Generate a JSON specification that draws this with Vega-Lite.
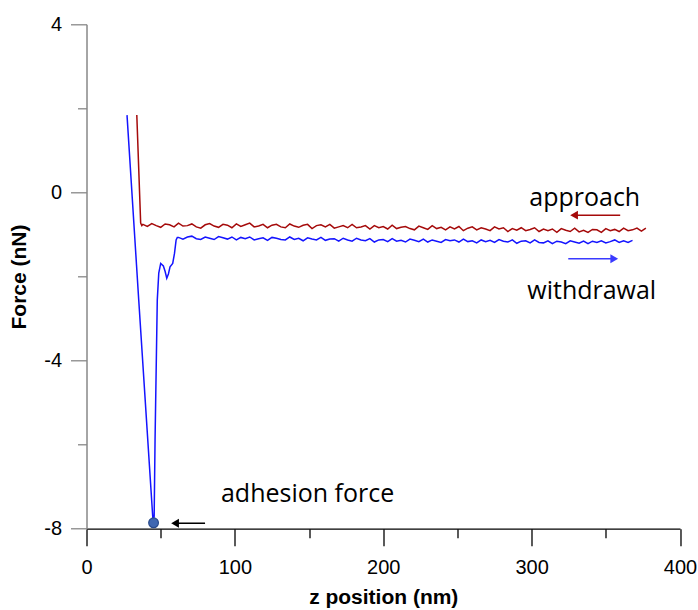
{
  "$schema": "https://vega.github.io/schema/vega-lite/v6.json",
  "autosize": {"type": "none"},
  "width": 593.5,
  "height": 504.4,
  "padding": {"left": 86.5, "top": 24.3, "right": 18, "bottom": 81},
  "background": "white",
  "config": {"view": {"stroke": null}},
  "datasets": {
    "approach": [
      {"z": 33.9, "f": 1.84}, {"z": 36.5, "f": -0.73}, {"z": 37.3, "f": -0.79},
      {"z": 38, "f": -0.76}, {"z": 41, "f": -0.81}, {"z": 44, "f": -0.74}, {"z": 47, "f": -0.79}, {"z": 50, "f": -0.83},
      {"z": 53, "f": -0.75}, {"z": 56, "f": -0.77}, {"z": 59, "f": -0.82}, {"z": 62, "f": -0.73}, {"z": 65, "f": -0.80},
      {"z": 68, "f": -0.79}, {"z": 71, "f": -0.75}, {"z": 74, "f": -0.82}, {"z": 77, "f": -0.85}, {"z": 80, "f": -0.77},
      {"z": 83, "f": -0.74}, {"z": 86, "f": -0.80}, {"z": 89, "f": -0.83}, {"z": 92, "f": -0.76}, {"z": 95, "f": -0.78},
      {"z": 98, "f": -0.84}, {"z": 101, "f": -0.75}, {"z": 104, "f": -0.81}, {"z": 107, "f": -0.77}, {"z": 110, "f": -0.73},
      {"z": 113, "f": -0.82}, {"z": 116, "f": -0.80}, {"z": 119, "f": -0.76}, {"z": 122, "f": -0.84}, {"z": 125, "f": -0.78},
      {"z": 128, "f": -0.76}, {"z": 131, "f": -0.82}, {"z": 134, "f": -0.84}, {"z": 137, "f": -0.75}, {"z": 140, "f": -0.80},
      {"z": 143, "f": -0.83}, {"z": 146, "f": -0.78}, {"z": 149, "f": -0.76}, {"z": 152, "f": -0.86}, {"z": 155, "f": -0.79},
      {"z": 158, "f": -0.77}, {"z": 161, "f": -0.82}, {"z": 164, "f": -0.76}, {"z": 167, "f": -0.85}, {"z": 170, "f": -0.82},
      {"z": 173, "f": -0.79}, {"z": 176, "f": -0.84}, {"z": 179, "f": -0.76}, {"z": 182, "f": -0.84}, {"z": 185, "f": -0.82},
      {"z": 188, "f": -0.79}, {"z": 191, "f": -0.87}, {"z": 194, "f": -0.79}, {"z": 197, "f": -0.84}, {"z": 200, "f": -0.81},
      {"z": 203, "f": -0.87}, {"z": 206, "f": -0.78}, {"z": 209, "f": -0.86}, {"z": 212, "f": -0.83}, {"z": 215, "f": -0.81},
      {"z": 218, "f": -0.86}, {"z": 221, "f": -0.89}, {"z": 224, "f": -0.80}, {"z": 227, "f": -0.84}, {"z": 230, "f": -0.88},
      {"z": 233, "f": -0.79}, {"z": 236, "f": -0.86}, {"z": 239, "f": -0.83}, {"z": 242, "f": -0.89}, {"z": 245, "f": -0.82},
      {"z": 248, "f": -0.87}, {"z": 251, "f": -0.81}, {"z": 254, "f": -0.91}, {"z": 257, "f": -0.85}, {"z": 260, "f": -0.82},
      {"z": 263, "f": -0.89}, {"z": 266, "f": -0.84}, {"z": 269, "f": -0.87}, {"z": 272, "f": -0.91}, {"z": 275, "f": -0.82},
      {"z": 278, "f": -0.87}, {"z": 281, "f": -0.84}, {"z": 284, "f": -0.93}, {"z": 287, "f": -0.86}, {"z": 290, "f": -0.90},
      {"z": 293, "f": -0.84}, {"z": 296, "f": -0.91}, {"z": 299, "f": -0.88}, {"z": 302, "f": -0.84}, {"z": 305, "f": -0.93},
      {"z": 308, "f": -0.87}, {"z": 311, "f": -0.91}, {"z": 314, "f": -0.87}, {"z": 317, "f": -0.95}, {"z": 320, "f": -0.86},
      {"z": 323, "f": -0.90}, {"z": 326, "f": -0.93}, {"z": 329, "f": -0.85}, {"z": 332, "f": -0.94}, {"z": 335, "f": -0.90},
      {"z": 338, "f": -0.95}, {"z": 341, "f": -0.88}, {"z": 344, "f": -0.89}, {"z": 347, "f": -0.95}, {"z": 350, "f": -0.86},
      {"z": 353, "f": -0.91}, {"z": 356, "f": -0.88}, {"z": 359, "f": -0.93}, {"z": 362, "f": -0.85}, {"z": 365, "f": -0.91},
      {"z": 368, "f": -0.89}, {"z": 371, "f": -0.85}, {"z": 374, "f": -0.92}, {"z": 377, "f": -0.85}
    ],
    "withdrawal": [
      {"z": 27.3, "f": 1.84}, {"z": 35.2, "f": -2.56}, {"z": 44.9, "f": -7.86}, {"z": 45.6, "f": -7.70},
      {"z": 46.2, "f": -5.89}, {"z": 47.7, "f": -2.56}, {"z": 48.7, "f": -1.92}, {"z": 50.0, "f": -1.69},
      {"z": 51.8, "f": -1.75}, {"z": 53.0, "f": -1.88}, {"z": 54.1, "f": -2.04}, {"z": 55.2, "f": -1.94},
      {"z": 56.3, "f": -1.77}, {"z": 58.1, "f": -1.69}, {"z": 59.3, "f": -1.45}, {"z": 60.4, "f": -1.13}, {"z": 61.2, "f": -1.07},
      {"z": 62, "f": -1.07}, {"z": 65, "f": -1.11}, {"z": 68, "f": -1.06}, {"z": 71, "f": -1.04}, {"z": 74, "f": -1.10},
      {"z": 77, "f": -1.12}, {"z": 80, "f": -1.06}, {"z": 83, "f": -1.09}, {"z": 86, "f": -1.12}, {"z": 89, "f": -1.05},
      {"z": 92, "f": -1.08}, {"z": 95, "f": -1.11}, {"z": 98, "f": -1.06}, {"z": 101, "f": -1.13}, {"z": 104, "f": -1.07},
      {"z": 107, "f": -1.10}, {"z": 110, "f": -1.06}, {"z": 113, "f": -1.13}, {"z": 116, "f": -1.10}, {"z": 119, "f": -1.08},
      {"z": 122, "f": -1.14}, {"z": 125, "f": -1.07}, {"z": 128, "f": -1.09}, {"z": 131, "f": -1.12}, {"z": 134, "f": -1.13},
      {"z": 137, "f": -1.06}, {"z": 140, "f": -1.12}, {"z": 143, "f": -1.09}, {"z": 146, "f": -1.15}, {"z": 149, "f": -1.08},
      {"z": 152, "f": -1.11}, {"z": 155, "f": -1.13}, {"z": 158, "f": -1.07}, {"z": 161, "f": -1.14}, {"z": 164, "f": -1.11},
      {"z": 167, "f": -1.10}, {"z": 170, "f": -1.16}, {"z": 173, "f": -1.09}, {"z": 176, "f": -1.13}, {"z": 179, "f": -1.16},
      {"z": 182, "f": -1.09}, {"z": 185, "f": -1.13}, {"z": 188, "f": -1.15}, {"z": 191, "f": -1.10}, {"z": 194, "f": -1.18},
      {"z": 197, "f": -1.13}, {"z": 200, "f": -1.12}, {"z": 203, "f": -1.17}, {"z": 206, "f": -1.10}, {"z": 209, "f": -1.16},
      {"z": 212, "f": -1.14}, {"z": 215, "f": -1.18}, {"z": 218, "f": -1.11}, {"z": 221, "f": -1.14}, {"z": 224, "f": -1.17},
      {"z": 227, "f": -1.11}, {"z": 230, "f": -1.18}, {"z": 233, "f": -1.13}, {"z": 236, "f": -1.16}, {"z": 239, "f": -1.19},
      {"z": 242, "f": -1.12}, {"z": 245, "f": -1.15}, {"z": 248, "f": -1.13}, {"z": 251, "f": -1.18}, {"z": 254, "f": -1.11},
      {"z": 257, "f": -1.17}, {"z": 260, "f": -1.15}, {"z": 263, "f": -1.20}, {"z": 266, "f": -1.13}, {"z": 269, "f": -1.17},
      {"z": 272, "f": -1.14}, {"z": 275, "f": -1.19}, {"z": 278, "f": -1.12}, {"z": 281, "f": -1.16}, {"z": 284, "f": -1.18},
      {"z": 287, "f": -1.13}, {"z": 290, "f": -1.21}, {"z": 293, "f": -1.16}, {"z": 296, "f": -1.15}, {"z": 299, "f": -1.20},
      {"z": 302, "f": -1.13}, {"z": 305, "f": -1.19}, {"z": 308, "f": -1.20}, {"z": 311, "f": -1.15}, {"z": 314, "f": -1.22},
      {"z": 317, "f": -1.16}, {"z": 320, "f": -1.18}, {"z": 323, "f": -1.22}, {"z": 326, "f": -1.15}, {"z": 329, "f": -1.18},
      {"z": 332, "f": -1.21}, {"z": 335, "f": -1.16}, {"z": 338, "f": -1.22}, {"z": 341, "f": -1.16}, {"z": 344, "f": -1.19},
      {"z": 347, "f": -1.15}, {"z": 350, "f": -1.20}, {"z": 353, "f": -1.17}, {"z": 356, "f": -1.13}, {"z": 359, "f": -1.19},
      {"z": 362, "f": -1.15}, {"z": 365, "f": -1.19}, {"z": 368, "f": -1.14}
    ],
    "dot": [{"z": 45.2, "f": -7.86}],
    "labels": [
      {"z": 335.8, "f": -0.32, "text": "approach"},
      {"z": 340.5, "f": -2.54, "text": "withdrawal"},
      {"z": 149.0, "f": -7.36, "text": "adhesion force"}
    ],
    "arrows": [
      {"name": "approach", "z": 330, "z2": 359.7, "f": -0.54, "head": 328.6, "dir": "left"},
      {"name": "withdrawal", "z": 324.7, "z2": 354, "f": -1.58, "head": 355.7, "dir": "right"},
      {"name": "adhesion", "z": 61, "z2": 79.9, "f": -7.87, "head": 59.7, "dir": "left"}
    ]
  },
  "resolve": {"axis": {"x": "independent", "y": "independent"}},
  "layer": [
    {
      "data": {"name": "approach"},
      "mark": {"type": "line", "color": "#a50a0a", "strokeWidth": 1.5, "interpolate": "linear"},
      "encoding": {
        "x": {"field": "z", "type": "quantitative",
          "scale": {"domain": [0, 400], "nice": false, "zero": false},
          "axis": {"orient": "bottom", "values": [0, 100, 200, 300, 400], "tickSize": 17, "tickWidth": 1.3,
            "tickColor": "#000", "domainColor": "#000", "domainWidth": 1.3, "labelPadding": 12,
            "labelFont": "Liberation Sans", "labelFontSize": 20, "labelColor": "#000", "labelFlush": false,
            "labelOverlap": false, "grid": false, "labelExpr": "datum.value + ''",
            "title": "z position (nm)", "titleFont": "Liberation Sans", "titleFontSize": 21,
            "titleFontWeight": "bold", "titleColor": "#000", "titlePadding": 9}},
        "y": {"field": "f", "type": "quantitative",
          "scale": {"domain": [-8, 4], "nice": false, "zero": false},
          "axis": {"orient": "left", "values": [-8, -4, 0, 4], "tickSize": 16, "tickWidth": 1.3,
            "tickColor": "#888", "domainColor": "#888", "domainWidth": 1.5, "labelPadding": 9,
            "labelFont": "Liberation Sans", "labelFontSize": 20, "labelColor": "#000", "labelFlush": false,
            "labelOverlap": false, "grid": false, "labelExpr": "datum.value + ''",
            "title": "Force (nN)", "titleFont": "Liberation Sans", "titleFontSize": 21,
            "titleFontWeight": "bold", "titleColor": "#000", "titlePadding": 14}}
      }
    },
    {
      "data": {"name": "withdrawal"},
      "mark": {"type": "line", "color": "#1414ff", "strokeWidth": 1.5},
      "encoding": {
        "x": {"field": "z", "type": "quantitative",
          "axis": {"orient": "bottom", "values": [50, 150, 250, 350], "tickSize": 9, "tickWidth": 1.3,
            "tickColor": "#000", "domain": false, "labels": false, "grid": false, "title": null}},
        "y": {"field": "f", "type": "quantitative",
          "axis": {"orient": "left", "values": [-6, -2, 2], "tickSize": 9, "tickWidth": 1.3,
            "tickColor": "#888", "domain": false, "labels": false, "grid": false, "title": null}}
      }
    },
    {
      "data": {"name": "dot"},
      "mark": {"type": "point", "filled": true, "fill": "#3f67b1", "stroke": "#2a4b8c", "strokeWidth": 1.2, "size": 95, "opacity": 1},
      "encoding": {
        "x": {"field": "z", "type": "quantitative", "axis": null},
        "y": {"field": "f", "type": "quantitative", "axis": null}
      }
    },
    {
      "data": {"name": "arrows"},
      "mark": {"type": "rule", "strokeWidth": 1.5},
      "encoding": {
        "x": {"field": "z", "type": "quantitative", "axis": null},
        "x2": {"field": "z2"},
        "y": {"field": "f", "type": "quantitative", "axis": null},
        "color": {"field": "name", "type": "nominal", "legend": null,
          "scale": {"domain": ["approach", "withdrawal", "adhesion"], "range": ["#a50a0a", "#3a3aff", "#000000"]}}
      }
    },
    {
      "data": {"name": "arrows"},
      "mark": {"type": "point", "filled": true, "size": 80, "opacity": 1},
      "encoding": {
        "x": {"field": "head", "type": "quantitative", "axis": null},
        "y": {"field": "f", "type": "quantitative", "axis": null},
        "shape": {"field": "dir", "type": "nominal", "legend": null,
          "scale": {"domain": ["left", "right"], "range": ["triangle-left", "triangle-right"]}},
        "color": {"field": "name", "type": "nominal", "legend": null,
          "scale": {"domain": ["approach", "withdrawal", "adhesion"], "range": ["#a50a0a", "#3a3aff", "#000000"]}}
      }
    },
    {
      "data": {"name": "labels"},
      "mark": {"type": "text", "font": "Open Sans", "fontSize": 25, "color": "#000", "align": "center", "baseline": "alphabetic"},
      "encoding": {
        "x": {"field": "z", "type": "quantitative", "axis": null},
        "y": {"field": "f", "type": "quantitative", "axis": null},
        "text": {"field": "text"}
      }
    }
  ]
}
